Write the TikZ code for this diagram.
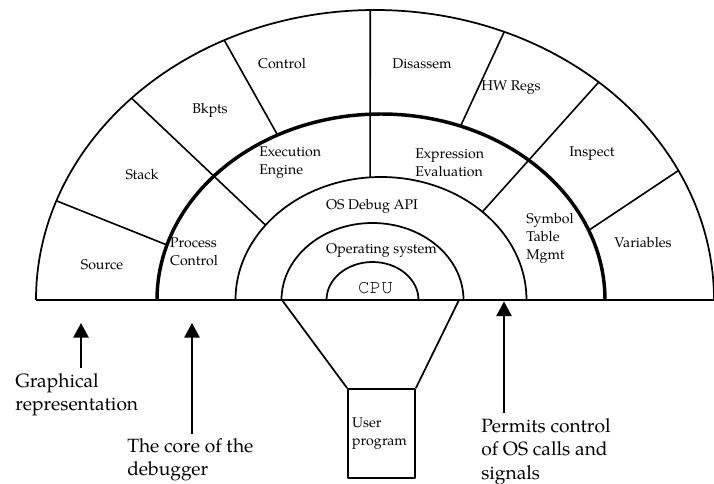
\documentclass[tikz,border=0pt]{standalone}
\usepackage{fontspec}
\setmainfont{TeX Gyre Pagella}
\setmonofont{TeX Gyre Cursor}
\usetikzlibrary{arrows.meta,calc}
\tikzset{
  ring/.style={line width=1.3pt},
  core/.style={line width=2.6pt},
  seg/.style={line width=1.2pt},
  lab/.style={font=\fontsize{10.6}{13.5}\selectfont,inner sep=0pt,align=left},
  note/.style={font=\fontsize{14.4}{17.6}\selectfont,inner sep=0pt,align=left,anchor=north west},
  pointer/.style={line width=1.2pt,-{Triangle[width=11.5pt,length=11pt]}},
}

\begin{document}
\begin{tikzpicture}[x=0.75pt,y=0.75pt,line join=round]
  \useasboundingbox (0,0) rectangle (714,483);
  \coordinate (cOut) at (375,183);
  \coordinate (cMid) at (381,183);
  \coordinate (cIn) at (372.5,183);
  % rings
  \draw[ring] (36,183) -- (714,183);
  \draw[ring] ([shift={(180:339 and 290)}]cOut) arc[start angle=180,end angle=0,x radius=339,y radius=290];
  \draw[core] ([shift={(180:224 and 186)}]cMid) arc[start angle=180,end angle=0,x radius=224,y radius=186];
  \draw[ring] ([shift={(180:145.5 and 123)}]cMid) arc[start angle=180,end angle=0,x radius=145.5,y radius=123];
  \draw[ring] ([shift={(180:91 and 77)}]cIn) arc[start angle=180,end angle=0,x radius=91,y radius=77];
  \draw[ring] ([shift={(180:46 and 38)}]cIn) arc[start angle=180,end angle=0,x radius=46,y radius=38];
  % dividers
  \foreach \a/\b in {160/162.8,116.4/117.5,67.6/69.2,26.5/22}
    \draw[seg] ([shift={(\a:339 and 290)}]cOut) -- ([shift={(\b:224 and 186)}]cMid);
  \foreach \a/\b in {135.9/142.5,90.8/94.3,48.7/45.8}
    \draw[seg] ([shift={(\a:339 and 290)}]cOut) -- ([shift={(\b:145.5 and 123)}]cMid);
  % user program
  \node[draw,ring,minimum width=50.25pt,minimum height=66.75pt,text width=44pt,inner sep=3pt,
    align=left,font=\fontsize{10.6}{13.5}\selectfont] (prog) at (381.5,49.5) {User\\program};
  \coordinate (tl) at (282,183);
  \coordinate (tr) at (459,183);
  \draw[ring] (tl) -- (prog.north west);
  \draw[ring] (tr) -- (prog.north east);
  % labels
  \node[lab] (src) at (102,218) {Source};
  \node[lab] (stk) at (142,308) {Stack};
  \node[lab] (bkp) at (210,373) {Bkpts};
  \node[lab] (ctl) at (282,419) {Control};
  \node[lab] (dis) at (422,419) {Disassem};
  \node[lab] (hwr) at (511,395) {HW Regs};
  \node[lab] (ins) at (592,329) {Inspect};
  \node[lab] (var) at (643,240) {Variables};
  \node[lab] (pct) at (194,231.5) {Process\\Control};
  \node[lab,anchor=west] (exe) at (259,320.5) {Execution\\Engine};
  \node[lab,anchor=west] (exp) at (415,320.5) {Expression\\Evaluation};
  \node[lab,anchor=west] (sym) at (526,244.5) {Symbol\\Table\\Mgmt};
  \node[lab] (api) at (372,277) {OS Debug API};
  \node[lab] (osy) at (381.5,233) {Operating system};
  \node[lab,font=\ttfamily\fontsize{14.5}{16}\selectfont] (cpu) at (375.5,194.5) {CPU};
  % notes
  \node[note] (grp) at (15,110) {Graphical\\representation};
  \node[note] (cor) at (127,45) {The core of the\\debugger};
  \node[note] (prm) at (481,65) {Permits control\\of OS calls and\\signals};
  \coordinate (tipG) at (81,160);
  \coordinate (tipC) at (192,160);
  \coordinate (tipP) at (504,181.5);
  \draw[pointer] ($(grp.north -| tipG)+(0,5)$) -- (tipG);
  \draw[pointer] ($(cor.north -| tipC)+(0,4)$) -- (tipC);
  \draw[pointer] ($(prm.north -| tipP)+(0,5)$) -- (tipP);
\end{tikzpicture}
\end{document}
